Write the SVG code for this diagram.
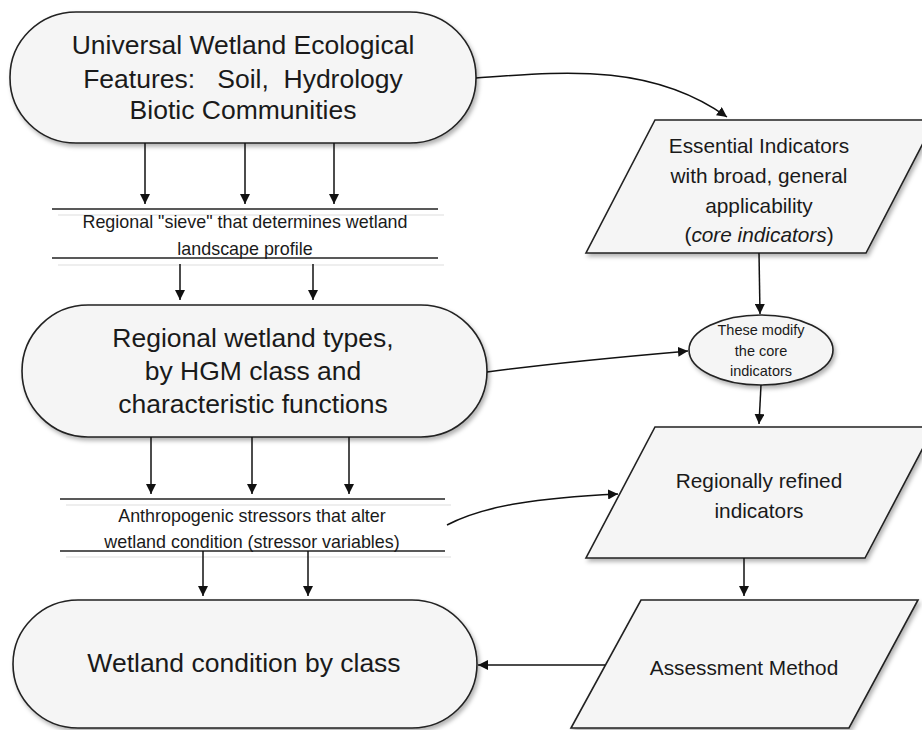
<svg xmlns="http://www.w3.org/2000/svg" width="922" height="730" viewBox="0 0 922 730">
<defs>
<filter id="sh" x="-10%" y="-10%" width="125%" height="130%">
<feDropShadow dx="2" dy="3" stdDeviation="2" flood-color="#000" flood-opacity="0.3"/>
</filter>
<marker id="ah" viewBox="0 0 10 10" refX="10" refY="5" markerWidth="10" markerHeight="10" markerUnits="userSpaceOnUse" orient="auto">
<path d="M0,0 L10,5 L0,10 Z" fill="#111"/>
</marker>
</defs>
<style>
.shape{fill:#f5f5f5;stroke:#222;stroke-width:1.6;filter:url(#sh)}
.t{font-family:"Liberation Sans",Arial,sans-serif;fill:#1a1a1a;text-anchor:middle}
.big{font-size:26.5px}
.mid{font-size:20.8px}
.sm{font-size:17.9px}
.xs{font-size:14.5px}
.bar{stroke:#222;stroke-width:1.5}
.barsh{stroke:#e8e8e8;stroke-width:1.5}
.c{fill:none;stroke:#111;stroke-width:1.5;marker-end:url(#ah)}
</style>
<rect width="922" height="730" fill="#fff"/>

<g id="universal">
<rect class="shape" x="10" y="12" width="466" height="131" rx="66" ry="65"/>
<text class="t big" x="243" y="54">Universal Wetland Ecological</text>
<text class="t big" x="243" y="88" style="white-space:pre">Features:   Soil,  Hydrology</text>
<text class="t big" x="243" y="119">Biotic Communities</text>
</g>

<g id="sieve">
<line class="barsh" x1="58" y1="215" x2="444" y2="215"/>
<line class="barsh" x1="58" y1="265" x2="444" y2="265"/>
<line class="bar" x1="52" y1="209" x2="438" y2="209"/>
<line class="bar" x1="52" y1="258" x2="438" y2="258"/>
<text class="t sm" x="245" y="228">Regional "sieve" that determines wetland</text>
<text class="t sm" x="245" y="255">landscape profile</text>
</g>

<g id="regional">
<rect class="shape" x="22" y="305" width="465" height="132" rx="66" ry="66"/>
<text class="t big" x="253" y="347">Regional wetland types,</text>
<text class="t big" x="253" y="380">by HGM class and</text>
<text class="t big" x="253" y="413">characteristic functions</text>
</g>

<g id="stressors">
<line class="barsh" x1="66" y1="505" x2="451" y2="505"/>
<line class="barsh" x1="66" y1="557" x2="451" y2="557"/>
<line class="bar" x1="60" y1="499" x2="445" y2="499"/>
<line class="bar" x1="60" y1="551" x2="445" y2="551"/>
<text class="t sm" x="252" y="522">Anthropogenic stressors that alter</text>
<text class="t sm" x="252" y="548">wetland condition (stressor variables)</text>
</g>

<g id="condition">
<rect class="shape" x="13" y="600" width="464" height="128" rx="65" ry="64"/>
<text class="t big" x="244" y="672">Wetland condition by class</text>
</g>

<g id="essential">
<polygon class="shape" points="655,120 935,120 866,253 586,253"/>
<text class="t mid" x="759" y="153">Essential Indicators</text>
<text class="t mid" x="759" y="183">with broad, general</text>
<text class="t mid" x="759" y="213">applicability</text>
<text class="t mid" x="759" y="242">(<tspan font-style="italic">core indicators</tspan>)</text>
</g>

<g id="modify">
<ellipse class="shape" cx="761" cy="350" rx="72" ry="35"/>
<text class="t xs" x="761" y="335">These modify</text>
<text class="t xs" x="761" y="356">the core</text>
<text class="t xs" x="761" y="376">indicators</text>
</g>

<g id="refined">
<polygon class="shape" points="655,427 934,427 865,558 586,558"/>
<text class="t mid" x="759" y="488">Regionally refined</text>
<text class="t mid" x="759" y="518">indicators</text>
</g>

<g id="assessment">
<polygon class="shape" points="641,600 918,600 849,728 571,728"/>
<text class="t mid" x="744" y="675">Assessment Method</text>
</g>

<g id="connectors">
<line class="c" x1="145" y1="143" x2="145" y2="204"/>
<line class="c" x1="245" y1="143" x2="245" y2="204"/>
<line class="c" x1="334" y1="143" x2="334" y2="204"/>
<line class="c" x1="180" y1="264" x2="180" y2="300"/>
<line class="c" x1="313" y1="264" x2="313" y2="300"/>
<line class="c" x1="151" y1="437" x2="151" y2="494"/>
<line class="c" x1="252" y1="437" x2="252" y2="494"/>
<line class="c" x1="349" y1="437" x2="349" y2="494"/>
<line class="c" x1="203" y1="551" x2="203" y2="596"/>
<line class="c" x1="308" y1="551" x2="308" y2="596"/>
<path class="c" d="M476,78 C560,72 650,62 727,117"/>
<line class="c" x1="759" y1="253" x2="760" y2="314"/>
<path class="c" d="M487,372 C560,362 630,356 688,351"/>
<line class="c" x1="761" y1="385" x2="759" y2="424"/>
<path class="c" d="M447,525 C485,505 540,498 618,494"/>
<line class="c" x1="744" y1="558" x2="744" y2="596"/>
<line class="c" x1="605" y1="665" x2="478" y2="665"/>
</g>
</svg>
